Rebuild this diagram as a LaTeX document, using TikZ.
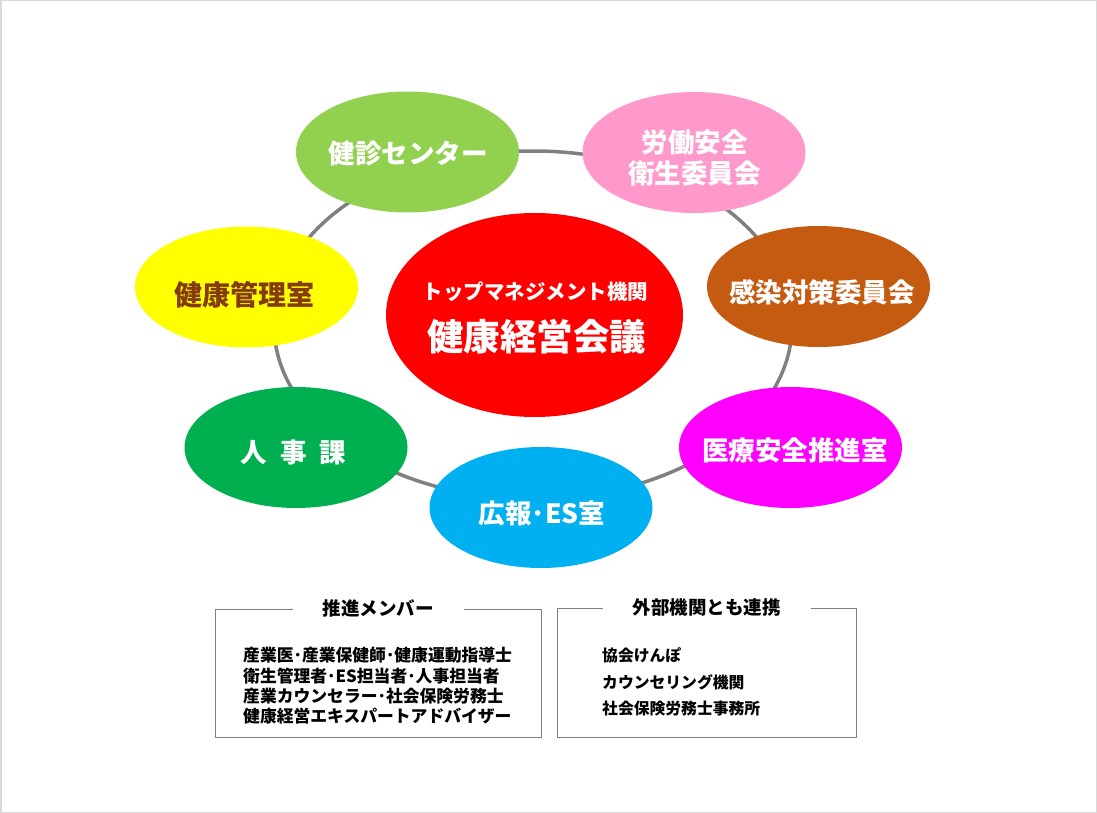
\documentclass[tikz,border=0pt]{standalone}
\usepackage{fontspec}
\setmainfont{Noto Sans CJK JP}
\usetikzlibrary{shapes.geometric}
\definecolor{cGreenL}{HTML}{92D050}
\definecolor{cPink}{HTML}{FF99CC}
\definecolor{cYellow}{HTML}{FFFF00}
\definecolor{cBrownT}{HTML}{843C0C}
\definecolor{cRed}{HTML}{FF0000}
\definecolor{cOrange}{HTML}{C55A11}
\definecolor{cGreen}{HTML}{00B050}
\definecolor{cMagenta}{HTML}{FF00FF}
\definecolor{cCyan}{HTML}{00B0F0}
\definecolor{cRing}{HTML}{808080}
\definecolor{cFrame}{HTML}{D9D9D9}
\tikzset{
  blob/.style={ellipse, draw=none, inner sep=0pt, minimum width=223pt, minimum height=121pt},
  lbl/.style={text=white, font=\bfseries\fontsize{26.5}{31}\selectfont, align=center, inner sep=0pt},
  ringline/.style={draw=cRing, line width=3.5pt, ellipse, inner sep=0pt},
  boxframe/.style={draw=cRing, line width=1pt, inner sep=0pt},
  boxtitle/.style={fill=white, inner xsep=30pt, inner ysep=2pt, font=\bfseries\fontsize{18.5}{22}\selectfont},
  boxbody/.style={align=left, anchor=west, inner sep=0pt, font=\bfseries}
}
\begin{document}
\begin{tikzpicture}[x=1pt,y=-1pt]
\useasboundingbox (0,0) rectangle (1097,813);
\fill[white] (0,0) rectangle (1097,813);
\draw[cFrame, line width=1.5pt] (0.75,0.75) rectangle (1096.25,812.25);

% ring
\node[ringline, minimum width=518pt, minimum height=348pt] (ring) at (533,325) {};

% ellipses
\node[blob, fill=cGreenL] (kenshin) at (407.5,152) {};
\node[lbl] (kenshinT) at (408,153.5) {健診センター};

\node[blob, fill=cPink] (roudou) at (694,152.5) {};
\node[lbl] (roudouT) at (694.5,157.5) {労働安全\\衛生委員会};

\node[blob, fill=cYellow] (kanri) at (246.5,287) {};
\node[lbl, text=cBrownT, font=\bfseries\fontsize{28}{32}\selectfont] (kanriT) at (244,294.5) {健康管理室};

\node[blob, fill=cOrange] (kansen) at (818.5,286.5) {};
\node[lbl] (kansenT) at (822,292) {感染対策委員会};

\node[blob, fill=cGreen] (jinji) at (296,447.5) {};
\node[lbl] (jinjiT) at (293.5,452) {人\hspace{13pt}事\hspace{13pt}課};

\node[blob, fill=cMagenta] (iryou) at (790.5,447.5) {};
\node[lbl] (iryouT) at (795,450) {医療安全推進室};

\node[blob, fill=cCyan] (kouhou) at (541,507.5) {};
\node[lbl] (kouhouT) at (542,513) {広報･ES室};

% center
\node[blob, fill=cRed, minimum width=297pt, minimum height=204pt] (center) at (534.5,315) {};
\node[lbl, font=\bfseries\fontsize{20.5}{24}\selectfont] (topT) at (535.5,292) {トップマネジメント機関};
\node[lbl, font=\bfseries\fontsize{36.5}{40}\selectfont] (kaigiT) at (536.5,337) {健康経営会議};

% boxes
\node[boxframe, minimum width=326pt, minimum height=128pt] (boxL) at (378,673) {};
\node[boxtitle] (titleL) at (boxL.north) {推進メンバー};
\node[boxbody, font=\bfseries\fontsize{16.8}{20.3}\selectfont] (bodyL) at (243,686) {産業医･産業保健師･健康運動指導士\\衛生管理者･ES担当者･人事担当者\\産業カウンセラー･社会保険労務士\\健康経営エキスパートアドバイザー};

\node[boxframe, minimum width=299pt, minimum height=129pt] (boxR) at (706.5,672.5) {};
\node[boxtitle] (titleR) at (boxR.north) {外部機関とも連携};
\node[boxbody, font=\bfseries\fontsize{15.8}{26.5}\selectfont] (bodyR) at (602,682) {協会けんぽ\\カウンセリング機関\\社会保険労務士事務所};
\end{tikzpicture}
\end{document}
